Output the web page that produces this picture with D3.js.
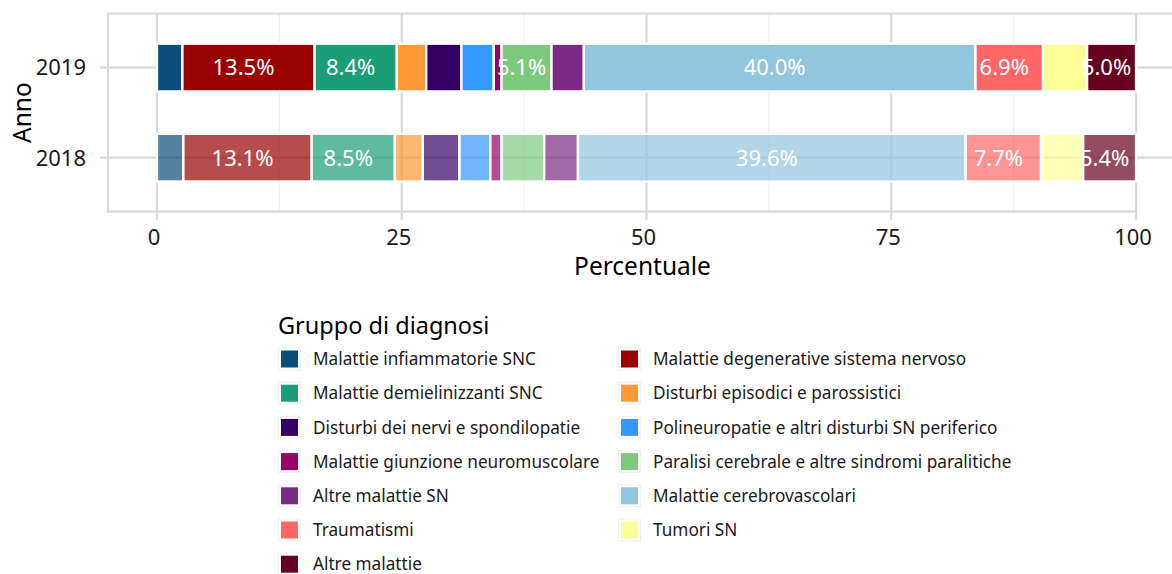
<!DOCTYPE html>
<html>
<head>
<meta charset="utf-8">
<script src="https://cdn.jsdelivr.net/npm/d3@7"></script>
<style>
  body { margin: 0; background: #fff; }
  svg { display: block; font-family: "Noto Sans", sans-serif; }
</style>
</head>
<body>
<script>
// categories in stacking / legend order
var categories = [
  "Malattie infiammatorie SNC",
  "Malattie degenerative sistema nervoso",
  "Malattie demielinizzanti SNC",
  "Disturbi episodici e parossistici",
  "Disturbi dei nervi e spondilopatie",
  "Polineuropatie e altri disturbi SN periferico",
  "Malattie giunzione neuromuscolare",
  "Paralisi cerebrale e altre sindromi paralitiche",
  "Altre malattie SN",
  "Malattie cerebrovascolari",
  "Traumatismi",
  "Tumori SN",
  "Altre malattie"
];
var colors = ["#0a4f79", "#990000", "#1b9e77", "#ff9933", "#330066", "#3399ff",
              "#990066", "#7fc97f", "#7b2a85", "#92c5de", "#ff6666", "#ffff99", "#67001f"];

var years = ["2019", "2018"];
var values2019 = [2.6, 13.5, 8.4, 3.0, 3.6, 3.3, 0.8, 5.1, 3.3, 40.0, 6.9, 4.5, 5.0];
var values2018 = [2.7, 13.1, 8.5, 2.85, 3.75, 3.15, 1.15, 4.35, 3.45, 39.6, 7.7, 4.3, 5.4];

var xTicks = [0, 25, 50, 75, 100];
var xMinor = [12.5, 37.5, 62.5, 87.5];

// table for d3.stack
var rows = years.map(function(yr) {
  var vals = yr == "2019" ? values2019 : values2018;
  var r = { anno: yr };
  categories.forEach(function(c, i) { r[c] = vals[i]; });
  return r;
});

var W = 1172, H = 574;
var panel = { left: 108, top: 13.5, bottom: 211.7, right: 1185 };

var svg = d3.select("body").append("svg")
    .attr("width", W)
    .attr("height", H);

var x = d3.scaleLinear()
          .domain([-5, 105])
          .range([panel.left, panel.right]);

var y = d3.scalePoint()
          .domain(years)
          .range([panel.top, panel.bottom])
          .padding(0.6);

var barH = y.step() * 0.53;

var color = d3.scaleOrdinal().domain(categories).range(colors);

var gridMajor = "#d9d9d9", gridMinor = "#ececec";

// minor gridlines
svg.append("g").selectAll("line")
   .data(xMinor).enter().append("line")
   .attr("x1", function(d) { return x(d); })
   .attr("x2", function(d) { return x(d); })
   .attr("y1", panel.top)
   .attr("y2", panel.bottom)
   .attr("stroke", gridMinor)
   .attr("stroke-width", 1.1);

// major vertical gridlines (continue below as ticks)
svg.append("g").selectAll("line")
   .data(xTicks).enter().append("line")
   .attr("x1", function(d) { return x(d); })
   .attr("x2", function(d) { return x(d); })
   .attr("y1", panel.top)
   .attr("y2", panel.bottom + 8)
   .attr("stroke", gridMajor)
   .attr("stroke-width", 2.2);

// horizontal gridlines (with ticks on the left)
svg.append("g").selectAll("line")
   .data(years).enter().append("line")
   .attr("x1", panel.left - 8)
   .attr("x2", W)
   .attr("y1", function(d) { return y(d); })
   .attr("y2", function(d) { return y(d); })
   .attr("stroke", gridMajor)
   .attr("stroke-width", 2.2);

// panel frame
svg.append("path")
   .attr("d", "M" + W + "," + panel.top + "H" + panel.left + "V" + panel.bottom + "H" + x(100))
   .attr("fill", "none")
   .attr("stroke", gridMajor)
   .attr("stroke-width", 2.2);

// stacked bars
var series = d3.stack().keys(categories)(rows);

var layer = svg.append("g").selectAll("g")
    .data(series).enter().append("g")
    .attr("fill", function(d) { return color(d.key); });

layer.selectAll("rect")
    .data(function(d) { return d; })
    .enter().append("rect")
    .attr("x", function(d) { return x(d[0]); })
    .attr("width", function(d) { return x(d[1]) - x(d[0]); })
    .attr("y", function(d) { return y(d.data.anno) - barH / 2; })
    .attr("height", barH)
    .attr("fill-opacity", function(d) { return d.data.anno == "2018" ? 0.7 : 1; })
    .attr("stroke", "#fff")
    .attr("stroke-width", 2.4);

// labels on segments >= 5%
var labels = [];
series.forEach(function(s) {
  s.forEach(function(d) {
    var v = d[1] - d[0];
    if (v >= 4.95) labels.push({ x: (d[0] + d[1]) / 2, anno: d.data.anno, v: v });
  });
});

svg.append("g").selectAll("text")
   .data(labels).enter().append("text")
   .attr("x", function(d) { return x(d.x) - 5; })
   .attr("y", function(d) { return y(d.anno); })
   .attr("dy", "0.36em")
   .attr("text-anchor", "middle")
   .attr("fill", "#fff")
   .style("font-size", "22px")
   .text(function(d) { return d3.format(".1f")(d.v) + "%"; });

// y axis labels
svg.append("g").selectAll("text")
   .data(years).enter().append("text")
   .attr("x", 86)
   .attr("y", function(d) { return y(d); })
   .attr("dy", "0.36em")
   .attr("text-anchor", "end")
   .attr("fill", "#1a1a1a")
   .style("font-size", "22px")
   .text(function(d) { return d; });

// x axis labels
svg.append("g").selectAll("text")
   .data(xTicks).enter().append("text")
   .attr("x", function(d) { return x(d) - 3; })
   .attr("y", 237)
   .attr("dy", "0.36em")
   .attr("text-anchor", "middle")
   .attr("fill", "#1a1a1a")
   .style("font-size", "22px")
   .text(function(d) { return d; });

// axis titles
svg.append("text")
   .attr("x", (panel.left + panel.right) / 2 - 4)
   .attr("y", 266)
   .attr("dy", "0.36em")
   .attr("text-anchor", "middle")
   .style("font-size", "24.5px")
   .text("Percentuale");

svg.append("text")
   .attr("transform", "translate(22," + ((panel.top + panel.bottom) / 2) + ") rotate(-90)")
   .attr("dy", "0.36em")
   .attr("text-anchor", "middle")
   .style("font-size", "24.5px")
   .text("Anno");

// legend
svg.append("text")
   .attr("x", 278)
   .attr("y", 326)
   .attr("dy", "0.36em")
   .style("font-size", "23.5px")
   .text("Gruppo di diagnosi");

var legend = svg.selectAll(".legend")
    .data(categories).enter().append("g")
    .attr("class", "legend")
    .attr("transform", function(d, i) {
      return "translate(" + (278 + (i % 2) * 340) + "," + (359 + Math.floor(i / 2) * 34.2) + ")";
    });

legend.append("rect")
    .attr("x", 0.5)
    .attr("y", -11)
    .attr("width", 22)
    .attr("height", 22)
    .attr("fill", "#fff")
    .attr("stroke", "#f0f0f0");

legend.append("rect")
    .attr("x", 3)
    .attr("y", -8.5)
    .attr("width", 17)
    .attr("height", 17)
    .attr("fill", color);

legend.append("text")
    .attr("x", 35)
    .attr("y", 0)
    .attr("dy", "0.36em")
    .attr("fill", "#1a1a1a")
    .style("font-size", "17.2px")
    .text(function(d) { return d; });
</script>
</body>
</html>
